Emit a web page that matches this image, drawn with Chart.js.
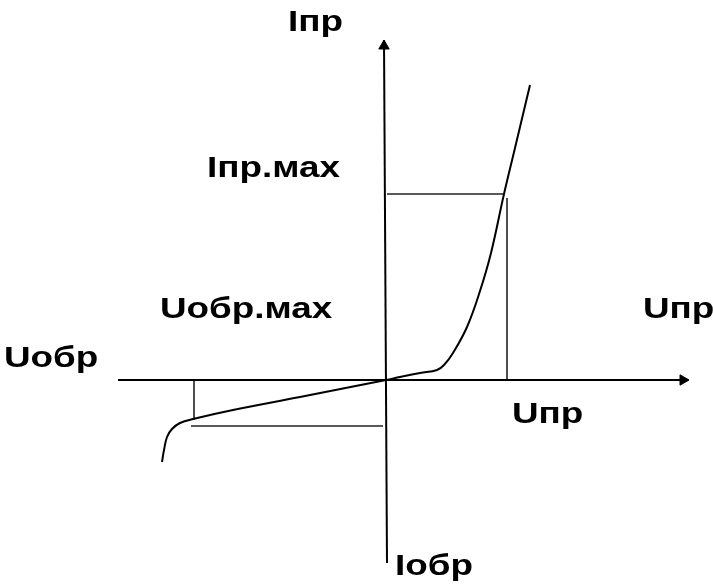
<!DOCTYPE html>
<html>
<head>
<meta charset="utf-8">
<script src="https://cdn.jsdelivr.net/npm/chart.js@4/dist/chart.umd.min.js"></script>
<style>
  body { margin: 0; background: #fff; }
  canvas { display: block; }
</style>
</head>
<body>
<canvas id="c" width="713" height="585"></canvas>
<script>
// diode I-V characteristic, abstract units (U along x, I along y)
const curveU = [-22.4, -22.2, -21.9, -21.4, -20.6, -19.3, -15.3, -8.6, 0, 1.4, 3.4, 5.1, 5.8, 6.7, 8.1, 9.4, 10.5, 11.8, 12.9, 14.4]
const curveI = [-8.2, -7.0, -5.7, -4.9, -4.3, -3.9, -3.0, -1.7, 0, 0.3, 0.7, 1.0, 1.5, 2.7, 5.3, 8.9, 12.7, 18.6, 23.2, 29.5]

// axes ends
const uAxis = [[-26.8, 0], [30.2, 0]]
const iAxis = [[-0.2, 34.0], [0.1, -18.3]]

// guide lines for Iпр.мах / Uпр and Uобр.мах
const guides = [
  [[0.1, 18.6], [11.8, 18.6]],
  [[12.1, 18.2], [12.1, 0]],
  [[-19.5, -4.6], [-0.3, -4.6]],
  [[-19.2, 0], [-19.2, -4.0]]
]

const labelText = ["Iпр", "Iпр.мах", "Uобр.мах", "Uпр", "Uобр", "Uпр", "Iобр"]
const labelU = [-9.8, -17.9, -22.6, 25.7, -38.2, 12.6, 0.9]
const labelI = [34.9, 20.3, 6.2, 6.2, 1.3, -4.3, -19.5]

function pts(arr) {
  return arr.map(p => ({ x: p[0], y: p[1] }))
}

let datasets = []
datasets.push({
  data: curveU.map((u, i) => ({ x: u, y: curveI[i] })),
  borderColor: "#000", borderWidth: 2, pointRadius: 0,
  tension: 0.4
})
datasets.push({ data: pts(uAxis), borderColor: "#000", borderWidth: 2, pointRadius: 0 })
datasets.push({ data: pts(iAxis), borderColor: "#000", borderWidth: 2, pointRadius: 0 })
for (let g of guides) {
  datasets.push({ data: pts(g), borderColor: "#222", borderWidth: 1.6, pointRadius: 0 })
}
// arrow heads
datasets.push({
  data: [{ x: uAxis[1][0] - 0.5, y: 0 }], showLine: false,
  pointStyle: "triangle", rotation: 90, pointRadius: 6,
  backgroundColor: "#000", borderColor: "#000", borderWidth: 1
})
datasets.push({
  data: [{ x: iAxis[0][0], y: iAxis[0][1] - 0.6 }], showLine: false,
  pointStyle: "triangle", rotation: 0, pointRadius: 6,
  backgroundColor: "#000", borderColor: "#000", borderWidth: 1
})

const labelsPlugin = {
  id: "labels",
  afterDatasetsDraw(chart) {
    const ctx = chart.ctx
    const xs = chart.scales.x, ys = chart.scales.y
    ctx.save()
    ctx.fillStyle = "#000"
    ctx.font = "bold 29px 'Liberation Sans', Arial, sans-serif"
    ctx.textBaseline = "alphabetic"
    for (let i = 0; i < labelText.length; i++) {
      const px = xs.getPixelForValue(labelU[i])
      const py = ys.getPixelForValue(labelI[i])
      ctx.save()
      ctx.translate(px, py)
      ctx.scale(1.27, 1)
      ctx.fillText(labelText[i], 0, 0)
      ctx.restore()
    }
    ctx.restore()
  }
}

new Chart(document.getElementById("c"), {
  type: "scatter",
  data: { datasets: datasets.map(d => Object.assign({ showLine: true, fill: false }, d)) },
  options: {
    responsive: false,
    animation: false,
    layout: { padding: 0, autoPadding: false },
    plugins: { legend: { display: false }, tooltip: { enabled: false } },
    scales: {
      x: { type: "linear", min: -38.6, max: 32.7, display: false },
      y: { type: "linear", min: -20.5, max: 38.0, display: false }
    }
  },
  plugins: [labelsPlugin]
})
</script>
</body>
</html>
